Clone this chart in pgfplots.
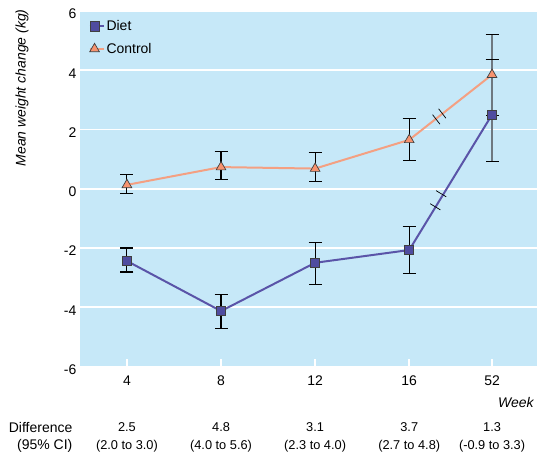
\documentclass[border=0pt]{standalone}
\usepackage{fontspec}
\setmainfont{Liberation Sans}
\usepackage{pgfplots}
\pgfplotsset{compat=1.18}
\definecolor{bgblue}{HTML}{C6E8F8}
\definecolor{dietline}{HTML}{5A54A8}
\definecolor{dietfill}{HTML}{4F4CA0}
\definecolor{ctrlline}{HTML}{F4A082}
\definecolor{ctrlfill}{HTML}{F7936F}
\definecolor{bargray}{HTML}{6E7880}
\newcommand{\mainfs}{\fontsize{14}{17}\selectfont}
\newcommand{\smallfs}{\fontsize{12.8}{15}\selectfont}
\begin{document}
\begin{tikzpicture}
\begin{axis}[
 name=ax,
 scale only axis, width=458pt, height=356pt,
 xmin=-0.5, xmax=4.36, ymin=-6, ymax=6,
 axis background/.style={fill=bgblue},
 axis line style={draw=none},
 xtick={0,1,2,3,3.88}, xticklabels={4,8,12,16,52},
 ytick={-6,-4,...,6},
 xmajorgrids=false, ymajorgrids=true,
 grid style={white, line width=1.6pt},
 xtick style={draw=none}, ytick style={draw=none},
 ticklabel style={font=\mainfs},
 xticklabel style={yshift=-6pt},
 yticklabel style={yshift=-3pt},
 /pgf/number format/assume math mode=true,
 clip=false,
 legend style={draw=none, fill=none, at={(0.012,0.985)}, anchor=north west, font=\mainfs, row sep=7pt},
 legend cell align=left,
 legend image code/.code={\path (0pt,0pt) -- (14pt,0pt);\draw[#1, only marks] plot coordinates {(5pt,0pt)};},
]
% white tick marks at the bottom
\draw[white, line width=1.8pt] (axis cs:0,-6) -- ++(0pt,7pt);
\draw[white, line width=1.8pt] (axis cs:1,-6) -- ++(0pt,7pt);
\draw[white, line width=1.8pt] (axis cs:2,-6) -- ++(0pt,7pt);
\draw[white, line width=1.8pt] (axis cs:3,-6) -- ++(0pt,7pt);
\draw[white, line width=1.8pt] (axis cs:3.88,-6) -- ++(0pt,7pt);
% error bars weeks 4-16
\addplot[only marks, mark=none, forget plot, error bars/.cd, y dir=both, y explicit,
  error bar style={black, line width=1.1pt},
  error mark options={rotate=90, mark size=6.5pt, black, line width=1.1pt}]
 coordinates {
 (0,0.13) += (0,0.34) -= (0,0.30)
 (1,0.73) += (0,0.52) -= (0,0.43)
 (2,0.68) += (0,0.54) -= (0,0.44)
 (3,1.65) += (0,0.72) -= (0,0.70)
 (0,-2.44) += (0,0.44) -= (0,0.37)
 (1,-4.13) += (0,0.57) -= (0,0.58)
 (2,-2.50) += (0,0.67) -= (0,0.72)
 (3,-2.07) += (0,0.78) -= (0,0.78)
 };
% error bars week 52
\addplot[only marks, mark=none, forget plot, error bars/.cd, y dir=both, y explicit,
  error bar style={bargray, line width=1.8pt},
  error mark options={rotate=90, mark size=6.5pt, black, line width=1.1pt}]
 coordinates {
 (3.88,3.85) += (0,1.37) -= (0,1.37)
 (3.88,2.50) += (0,1.87) -= (0,1.58)
 };
\addplot[dietline, line width=2pt, mark=square*, mark size=4.6pt,
  mark options={fill=dietfill, draw=black!75, line width=0.7pt, solid}]
 coordinates {(0,-2.44) (1,-4.13) (2,-2.50) (3,-2.07) (3.88,2.50)};
\addlegendentry{Diet}
\addplot[ctrlline, line width=2pt, mark=triangle*, mark size=5.6pt,
  mark options={fill=ctrlfill, draw=black!75, line width=0.7pt, solid}]
 coordinates {(0,0.13) (1,0.73) (2,0.68) (3,1.65) (3.88,3.85)};
\addlegendentry{Control}
% axis break marks
\draw[black, line width=0.7pt] (axis cs:3.287,2.34) ++(-3.67pt,4.75pt) -- ++(7.34pt,-9.5pt);
\draw[black, line width=0.7pt] (axis cs:3.351,2.54) ++(-3.67pt,4.75pt) -- ++(7.34pt,-9.5pt);
\draw[black, line width=0.7pt] (axis cs:3.277,-0.61) ++(-5.1pt,3.1pt) -- ++(10.2pt,-6.2pt);
\draw[black, line width=0.7pt] (axis cs:3.340,-0.17) ++(-5.1pt,3.1pt) -- ++(10.2pt,-6.2pt);
% annotations
\node[font=\mainfs\itshape, anchor=east] at ([yshift=-36pt]rel axis cs:1,0) {Week};
\node[font=\mainfs, anchor=east] at ([yshift=-61pt, xshift=-4pt]rel axis cs:0,0) {Difference};
\node[font=\mainfs, anchor=east] at ([yshift=-80pt, xshift=-4pt]rel axis cs:0,0) {(95\% CI)};
\node[font=\smallfs] at ([yshift=-61pt]axis cs:0,-6) {2.5};
\node[font=\smallfs] at ([yshift=-80pt]axis cs:0,-6) {(2.0 to 3.0)};
\node[font=\smallfs] at ([yshift=-61pt]axis cs:1,-6) {4.8};
\node[font=\smallfs] at ([yshift=-80pt]axis cs:1,-6) {(4.0 to 5.6)};
\node[font=\smallfs] at ([yshift=-61pt]axis cs:2,-6) {3.1};
\node[font=\smallfs] at ([yshift=-80pt]axis cs:2,-6) {(2.3 to 4.0)};
\node[font=\smallfs] at ([yshift=-61pt]axis cs:3,-6) {3.7};
\node[font=\smallfs] at ([yshift=-80pt]axis cs:3,-6) {(2.7 to 4.8)};
\node[font=\smallfs] at ([yshift=-61pt]axis cs:3.88,-6) {1.3};
\node[font=\smallfs] at ([yshift=-80pt]axis cs:3.88,-6) {(-0.9 to 3.3)};
\node[font=\mainfs\itshape, rotate=90] at ([xshift=-58pt, yshift=279pt]rel axis cs:0,0) {Mean weight change (kg)};
\end{axis}
\path (ax.south west) ++(-80pt,-93pt) rectangle ([yshift=11pt]ax.north east);
\end{tikzpicture}
\end{document}
